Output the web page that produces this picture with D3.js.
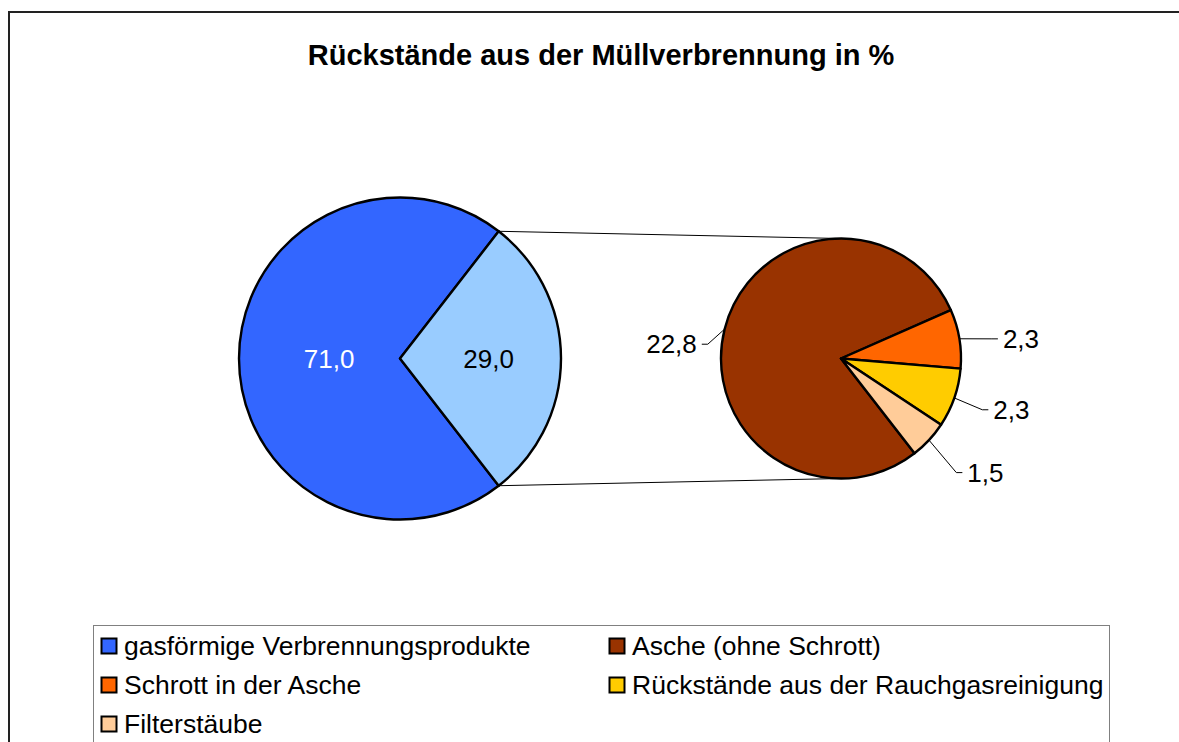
<!DOCTYPE html>
<html lang="de">
<head>
    <meta charset="UTF-8">
    <title>Rückstände aus der Müllverbrennung</title>
    <style>
        body{margin:0;background:#fff;}
        svg text{font-family:"Liberation Sans",Arial,sans-serif;}
        .title{font-size:29px;font-weight:bold;text-anchor:middle;}
        .lbl{font-size:26px;}
        .legend text{font-size:26.5px;}
    </style>
    <script src="https://cdn.jsdelivr.net/npm/d3@7/dist/d3.min.js"></script>
</head>
<body>
<script>
    // Daten
    var title = "Rückstände aus der Müllverbrennung in %";
    var mainCategories = ["gasförmige Verbrennungsprodukte", "Rückstände gesamt"];
    var mainValues = [71.0, 29.0];
    var subCategories = ["Asche (ohne Schrott)", "Schrott in der Asche", "Rückstände aus der Rauchgasreinigung", "Filterstäube"];
    var subValues = [22.8, 2.3, 2.3, 1.5];
    var mainColors = ["#3366FF", "#99CCFF"];
    var subColors = ["#993300", "#FF6600", "#FFCC00", "#FFCC99"];
    // Legendenreihenfolge (wie im Original, zeilenweise in 2 Spalten)
    var legendItems = [
        {name: mainCategories[0], color: mainColors[0]},
        {name: subCategories[0], color: subColors[0]},
        {name: subCategories[1], color: subColors[1]},
        {name: subCategories[2], color: subColors[2]},
        {name: subCategories[3], color: subColors[3]}
    ];

    var width = 1179, height = 742;
    var svg = d3.select("body").append("svg")
            .attr("width", width)
            .attr("height", height);

    // Rahmen
    svg.append("rect")
            .attr("x", 9).attr("y", 12)
            .attr("width", width + 20).attr("height", height + 20)
            .attr("fill", "#fff")
            .attr("stroke", "#222")
            .attr("stroke-width", 2);

    svg.append("text")
            .attr("class", "title")
            .attr("x", 601).attr("y", 65)
            .text(title);

    var fmt = function(v){ return v.toFixed(1).replace(".", ","); };

    // Hauptkreis
    var c1 = {x: 400, y: 358.5, r: 161};
    var c2 = {x: 841, y: 358.5, r: 120};
    var splitShare = mainValues[1] / d3.sum(mainValues);
    var start = Math.PI / 2 + Math.PI * splitShare;   // abgespaltenes Segment rechts zentriert

    var pieMain = d3.pie().sort(null).startAngle(start).endAngle(start + 2 * Math.PI);
    var arcMain = d3.arc().innerRadius(0).outerRadius(c1.r);
    var mainArcs = pieMain(mainValues);

    var gMain = svg.append("g").attr("transform", "translate(" + c1.x + "," + c1.y + ")");
    gMain.selectAll("path")
            .data(mainArcs)
            .enter()
            .append("path")
            .attr("d", arcMain)
            .attr("fill", function(d, i){ return mainColors[i]; })
            .attr("stroke", "#000")
            .attr("stroke-width", 2.4)
            .attr("stroke-linejoin", "round");

    var mainLabelR = [0.44, 0.55];
    gMain.selectAll(".lbl")
            .data(mainArcs)
            .enter()
            .append("text")
            .attr("class", "lbl")
            .attr("text-anchor", "middle")
            .attr("dy", "0.35em")
            .attr("transform", function(d, i){
                var rr = c1.r * mainLabelR[i];
                return "translate(" + d3.arc().innerRadius(rr).outerRadius(rr).centroid(d) + ")";
            })
            .attr("fill", function(d, i){ return i === 0 ? "#fff" : "#000"; })
            .text(function(d){ return fmt(d.data); });

    // Verbindungslinien
    var split = mainArcs[1];
    var edge = function(a){ return [c1.x + c1.r * Math.sin(a), c1.y - c1.r * Math.cos(a)]; };
    var pTop = edge(split.startAngle), pBot = edge(split.endAngle);
    svg.append("line")
            .attr("x1", pTop[0]).attr("y1", pTop[1])
            .attr("x2", c2.x).attr("y2", c2.y - c2.r)
            .attr("stroke", "#000").attr("stroke-width", 1);
    svg.append("line")
            .attr("x1", pBot[0]).attr("y1", pBot[1])
            .attr("x2", c2.x).attr("y2", c2.y + c2.r)
            .attr("stroke", "#000").attr("stroke-width", 1);

    // Sekundärkreis
    var pieSub = d3.pie().sort(null).startAngle(start).endAngle(start + 2 * Math.PI);
    var arcSub = d3.arc().innerRadius(0).outerRadius(c2.r);
    var subArcs = pieSub(subValues);
    var gSub = svg.append("g").attr("transform", "translate(" + c2.x + "," + c2.y + ")");
    gSub.selectAll("path")
            .data(subArcs)
            .enter()
            .append("path")
            .attr("d", arcSub)
            .attr("fill", function(d, i){ return subColors[i]; })
            .attr("stroke", "#000")
            .attr("stroke-width", 2.4)
            .attr("stroke-linejoin", "round");

    // Beschriftungen mit Führungslinien
    var elbowArc = d3.arc().innerRadius(c2.r * 1.3).outerRadius(c2.r * 1.3);
    var edgeArc = d3.arc().innerRadius(c2.r).outerRadius(c2.r);
    var labelTweak = [[18, 24], [-3, 6], [-6, 0], [1, 8]];
    subArcs.forEach(function(d, i){
        var e = edgeArc.centroid(d);
        var k = elbowArc.centroid(d);
        k = [k[0] + labelTweak[i][0], k[1] + labelTweak[i][1]];
        var right = k[0] > 0;
        var h = right ? k[0] + 6 : k[0] - 6;
        gSub.append("polyline")
                .attr("points", [e, k, [h, k[1]]].map(function(p){ return p.join(","); }).join(" "))
                .attr("fill", "none")
                .attr("stroke", "#000")
                .attr("stroke-width", 1);
        gSub.append("text")
                .attr("class", "lbl")
                .attr("x", right ? h + 5 : h - 5)
                .attr("y", k[1])
                .attr("dy", "0.35em")
                .attr("text-anchor", right ? "start" : "end")
                .text(fmt(d.data));
    });

    // Legende
    var lg = svg.append("g").attr("class", "legend");
    lg.append("rect")
            .attr("x", 93.5).attr("y", 625.5)
            .attr("width", 1016).attr("height", 140)
            .attr("fill", "#fff")
            .attr("stroke", "#808080")
            .attr("stroke-width", 1);
    var colX = [101, 609], rowY = [645.5, 684.5, 723.5];
    var items = lg.selectAll(".item")
            .data(legendItems)
            .enter()
            .append("g")
            .attr("class", "item")
            .attr("transform", function(d, i){
                return "translate(" + colX[i % 2] + "," + rowY[Math.floor(i / 2)] + ")";
            });
    items.append("rect")
            .attr("x", 0.5).attr("y", -7)
            .attr("width", 15).attr("height", 15)
            .attr("fill", function(d){ return d.color; })
            .attr("stroke", "#000")
            .attr("stroke-width", 2);
    items.append("text")
            .attr("x", 23)
            .attr("y", 9.5)
            .text(function(d){ return d.name; });
</script>
</body>
</html>
